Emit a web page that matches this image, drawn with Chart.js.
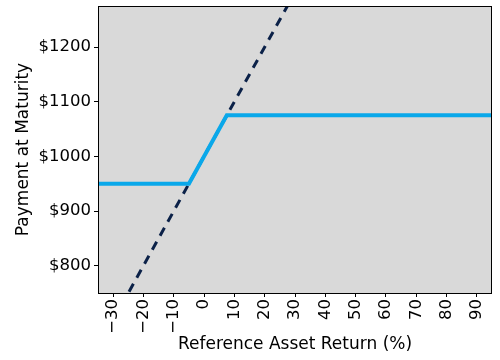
<!DOCTYPE html>
<html>
<head>
<meta charset="utf-8">
<script src="https://cdn.jsdelivr.net/npm/chart.js@4"></script>
<style>
  html, body { margin: 0; padding: 0; background: #fff; }
  #wrap { width: 500px; height: 360px; }
</style>
</head>
<body>
<div id="wrap"><canvas id="chart" width="500" height="360"></canvas></div>
<script>
// note payoff vs. plain holding of the reference asset
const noteReturns = [-35, -5, 7.5, 95]
const notePayments = [950, 950, 1075, 1075]
const assetReturns = [-35, 95]
const assetPayments = [650, 1950]

const xTicks = [-30, -20, -10, 0, 10, 20, 30, 40, 50, 60, 70, 80, 90]
const yTicks = [800, 900, 1000, 1100, 1200]

const fontFamily = "'DejaVu Sans', sans-serif"

// gray plot area with a black frame
const plotFrame = {
  id: "plotFrame",
  beforeDraw(chart) {
    const { ctx, chartArea: a } = chart
    ctx.save()
    ctx.fillStyle = "#d9d9d9"
    ctx.fillRect(a.left, a.top, a.right - a.left, a.bottom - a.top)
    ctx.restore()
  },
  afterDraw(chart) {
    const { ctx, chartArea: a } = chart
    ctx.save()
    ctx.strokeStyle = "#000"
    ctx.lineWidth = 1
    ctx.strokeRect(a.left + 0.5, a.top + 0.5, a.right - a.left - 1, a.bottom - a.top)
    ctx.restore()
  }
}

new Chart(document.getElementById("chart").getContext("2d"), {
  type: "line",
  data: {
    datasets: [
      {
        label: "Note",
        data: noteReturns.map((r, i) => ({ x: r, y: notePayments[i] })),
        borderColor: "#0aa8ea",
        borderWidth: 4,
        pointRadius: 0,
        order: 0
      },
      {
        label: "Reference asset",
        data: assetReturns.map((r, i) => ({ x: r, y: assetPayments[i] })),
        borderColor: "#0b2148",
        borderWidth: 3,
        borderDash: [9, 7],
        pointRadius: 0,
        order: 1
      }
    ]
  },
  options: {
    responsive: false,
    animation: false,
    layout: { padding: { top: 6, right: 8, left: 0, bottom: 0 } },
    plugins: { legend: { display: false }, tooltip: { enabled: false } },
    scales: {
      x: {
        type: "linear",
        min: -35,
        max: 95,
        afterBuildTicks: s => { s.ticks = xTicks.map(v => ({ value: v })) },
        afterFit: s => { s.height = 67; s.paddingLeft = 0; s.paddingRight = 0 },
        grid: { drawOnChartArea: false, drawTicks: true, tickLength: 4, color: "#000" },
        border: { display: false },
        ticks: {
          color: "#000",
          font: { family: fontFamily, size: 16.5 },
          minRotation: 90,
          maxRotation: 90,
          padding: 2,
          callback: v => String(v).replace("-", "\u2212")
        },
        title: {
          display: true,
          text: "Reference Asset Return (%)",
          color: "#000",
          font: { family: fontFamily, size: 17 },
          padding: { top: 0, bottom: 5 }
        }
      },
      y: {
        min: 750,
        max: 1275,
        afterBuildTicks: s => { s.ticks = yTicks.map(v => ({ value: v })) },
        afterFit: s => { s.width = 98; s.paddingTop = 0; s.paddingBottom = 0 },
        grid: { drawOnChartArea: false, drawTicks: true, tickLength: 4, color: "#000" },
        border: { display: false },
        ticks: {
          color: "#000",
          font: { family: fontFamily, size: 16.5 },
          padding: 3,
          callback: v => "$" + v
        },
        title: {
          display: true,
          text: "Payment at Maturity",
          color: "#000",
          font: { family: fontFamily, size: 17 },
          padding: { top: 13, bottom: 0 }
        }
      }
    }
  },
  plugins: [plotFrame]
})
</script>
</body>
</html>
